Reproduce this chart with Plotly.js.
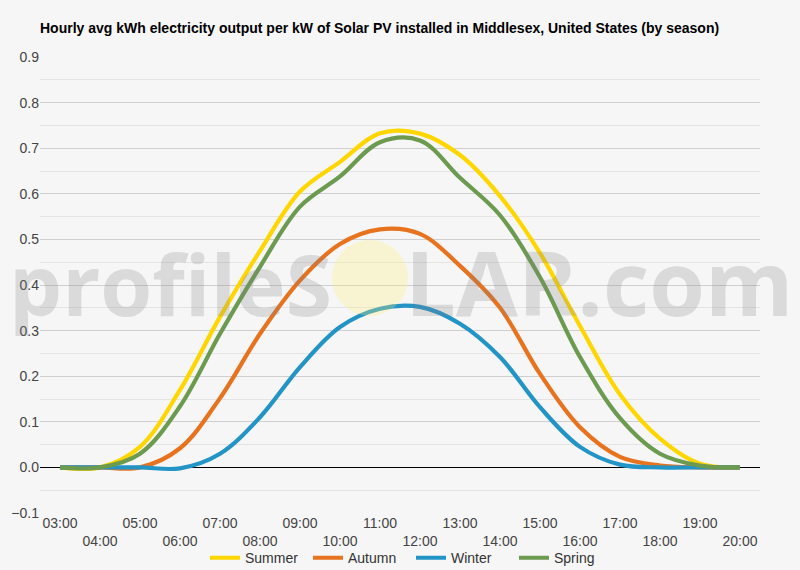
<!DOCTYPE html>
<html>
<head>
<meta charset="utf-8">
<script src="https://cdn.plot.ly/plotly-3.0.1.min.js"></script>
<style>
  html, body { margin: 0; padding: 0; background: #f6f6f6; }
  #chart { width: 800px; height: 570px; }
</style>
</head>
<body>
<div id="chart"></div>
<script>
const hours = ['03:00','04:00','05:00','06:00','07:00','08:00','09:00','10:00','11:00','12:00','13:00','14:00','15:00','16:00','17:00','18:00','19:00','20:00'];
const summer = [0, 0, 0.045, 0.17, 0.33, 0.475, 0.605, 0.67, 0.733, 0.732, 0.685, 0.595, 0.47, 0.31, 0.16, 0.063, 0.008, 0];
const autumn = [0, 0, 0, 0.042, 0.152, 0.293, 0.41, 0.49, 0.522, 0.512, 0.442, 0.35, 0.205, 0.088, 0.023, 0.004, 0, 0];
const winter = [0, 0, 0, -0.002, 0.03, 0.11, 0.22, 0.308, 0.348, 0.352, 0.315, 0.242, 0.132, 0.045, 0.006, 0, 0, 0];
const spring = [0, 0, 0.03, 0.134, 0.293, 0.44, 0.572, 0.638, 0.713, 0.717, 0.635, 0.553, 0.417, 0.242, 0.108, 0.03, 0.004, 0];
const seriesNames = ['Summer', 'Autumn', 'Winter', 'Spring'];
const seriesColors = ['#FFD600', '#E8731F', '#2394C6', '#6C9A4E'];
const titleText = 'Hourly avg kWh electricity output per kW of Solar PV installed in Middlesex, United States (by season)';
const watermarkLeft = 'profileS';
const watermarkRight = 'LAR.com';

const allSeries = [summer, autumn, winter, spring];
const idx = hours.map((h, i) => i);
const tickText = hours.map((h, i) => (i % 2 === 0 ? h : '<br>' + h));

const traces = allSeries.map((ys, k) => ({
  type: 'scatter',
  mode: 'lines',
  name: seriesNames[k],
  x: idx,
  y: ys,
  line: { color: seriesColors[k], width: 4.2, shape: 'spline', smoothing: 1 },
  hoverinfo: 'skip'
}));

const font = "'Liberation Sans', Arial, sans-serif";
const wmFamily = "'Open Sans', 'Liberation Sans', sans-serif";
const wmColor = 'rgba(128,128,128,0.24)';
const px2x = px => (px - 40) / 720;
const py2y = py => (513 - py) / 456;

const layout = {
  width: 800,
  height: 570,
  paper_bgcolor: '#f6f6f6',
  plot_bgcolor: '#f6f6f6',
  margin: { l: 40, r: 40, t: 57, b: 57, autoexpand: false },
  font: { family: font, size: 14, color: '#444' },
  title: {
    text: '<b>' + titleText + '</b>',
    font: { family: font, size: 14, color: '#000' },
    x: 40 / 800, xanchor: 'left', xref: 'container',
    y: 1 - 28 / 570, yanchor: 'middle', yref: 'container'
  },
  showlegend: true,
  legend: {
    orientation: 'h', x: 0.5 + 11 / 720, xanchor: 'center', y: -0.099, yanchor: 'middle',
    font: { family: font, size: 14, color: '#333' },
    bgcolor: 'rgba(0,0,0,0)', itemwidth: 30, traceorder: 'normal',
    entrywidth: 58, entrywidthmode: 'pixels'
  },
  xaxis: {
    range: [-0.5, 17.5], automargin: false,
    tickmode: 'array', tickvals: idx, ticktext: tickText,
    showgrid: false, zeroline: false, showline: false,
    ticks: '', tickfont: { family: font, size: 14, color: '#444' },
    fixedrange: true
  },
  yaxis: {
    range: [-0.1, 0.9], automargin: false,
    dtick: 0.1, tick0: 0, tickformat: '.1f',
    showgrid: true, gridcolor: '#cfcfcf', gridwidth: 1,
    minor: { dtick: 0.05, showgrid: true, gridcolor: '#e4e4e4', gridwidth: 1 },
    zeroline: true, zerolinecolor: '#000', zerolinewidth: 1,
    showline: false, ticks: '',
    tickfont: { family: font, size: 14, color: '#444' },
    fixedrange: true
  },
  shapes: [{
    type: 'circle', xref: 'paper', yref: 'paper', layer: 'above',
    x0: px2x(332), x1: px2x(408),
    y0: py2y(316), y1: py2y(240),
    fillcolor: 'rgba(255,236,110,0.28)', line: { width: 0 }
  }],
  annotations: [{
    text: watermarkLeft,
    xref: 'paper', yref: 'paper', x: px2x(334), y: py2y(283),
    xanchor: 'right', yanchor: 'middle', showarrow: false,
    font: { family: wmFamily, size: 84, weight: 700, color: wmColor }
  }, {
    text: watermarkRight,
    xref: 'paper', yref: 'paper', x: px2x(403), y: py2y(281),
    xanchor: 'left', yanchor: 'middle', showarrow: false,
    font: { family: wmFamily, size: 90, weight: 700, color: wmColor }
  }]
};

Plotly.newPlot('chart', traces, layout, { displayModeBar: false, staticPlot: true });
</script>
</body>
</html>
